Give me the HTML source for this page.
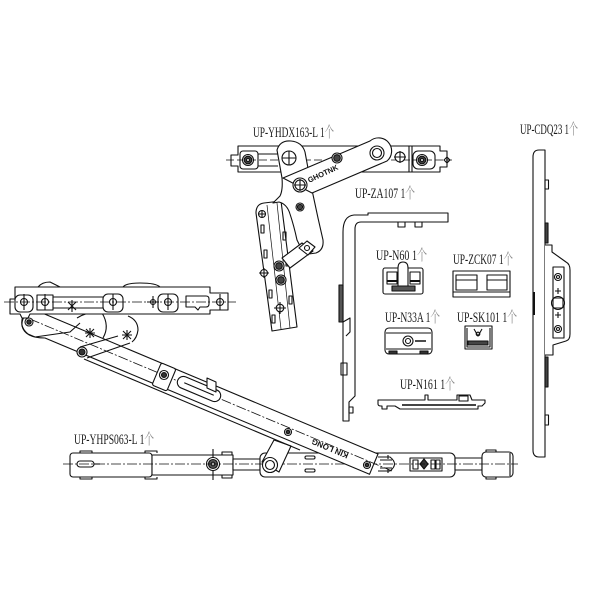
<!DOCTYPE html>
<html><head><meta charset="utf-8">
<style>
html,body{margin:0;padding:0;background:#fff;width:600px;height:600px;overflow:hidden}
svg{display:block}
.lb{font-family:"Liberation Serif","Noto Serif CJK SC",serif;font-size:15px;fill:#1a1a1a}
.g{fill:#8a8a8a}
.kt{font-family:"Liberation Sans",sans-serif;font-weight:bold;fill:#111}
</style></head><body>
<svg width="600" height="600" viewBox="0 0 600 600" xmlns="http://www.w3.org/2000/svg">
<rect width="600" height="600" fill="#fff"/>
<g fill="none" stroke="#111" stroke-width="1.1" stroke-linejoin="round">

<!-- ===== Bottom track ===== -->
<g fill="#fff">
<rect x="70" y="453" width="82" height="24" rx="3"/>
<rect x="152" y="455" width="81" height="20"/>
<rect x="233" y="459" width="27" height="11"/>
<rect x="260" y="453" width="195" height="24" rx="5"/>
<rect x="455" y="458" width="27" height="12"/>
<rect x="482" y="452" width="31" height="25" rx="4"/>
</g>
<path d="M80,453 v-2 h12 v2 M80,477 v2 h12 v-2 M145,453 v-2 h12 v2 M145,477 v2 h12 v-2 M222,455 v-3 h10 v3 M222,475 v3 h10 v-3 M486,452 v-2 h10 v2 M486,477 v2 h10 v-2"/>
<rect x="77" y="461" width="17" height="6" rx="3"/>
<line x1="94" y1="464" x2="100" y2="464"/>
<line x1="510" y1="453" x2="510" y2="476"/>
<line x1="213" y1="449" x2="213" y2="480"/>
<circle cx="213" cy="464" r="6.5" fill="#fff"/>
<circle cx="213" cy="464" r="4.5" fill="#555"/>
<circle cx="213" cy="464" r="1.8" fill="#fff"/>
<rect x="305" y="456" width="10" height="3" rx="1.5"/>
<rect x="305" y="469" width="10" height="3" rx="1.5"/>
<rect x="410" y="458" width="32" height="13"/>
<rect x="413" y="460" width="5" height="9"/>
<path d="M424,459 l4,5 l-4,5 l-4,-5z" fill="#333"/>
<rect x="431" y="460" width="4" height="9"/>
<rect x="436" y="460" width="4" height="9"/>
<path d="M378,457 L390,457 Q399,464 390,471 L378,471 M380,460 L392,460 M380,468 L392,468 M388,455 L388,459 M388,469 L388,473"/>
<line x1="63" y1="464" x2="518" y2="464" stroke-dasharray="10 2 2 2" stroke-width="0.8"/>

<!-- short link on track -->
<path d="M262,462 L274,440 L291,446 L279,472 Z" fill="#fff"/>
<circle cx="270" cy="465" r="7.5" fill="#fff"/>
<circle cx="270" cy="465" r="4.5"/>

<!-- ===== Main diagonal arm ===== -->
<path d="M35,310 L378,454 L369.5,474.3 L45,338 Q25,338 22,326 Q21,314 35,310 Z" fill="#fff"/>
<line x1="84" y1="359" x2="300" y2="450"/>
<line x1="30" y1="319" x2="392" y2="471" stroke-dasharray="10 2 2 2" stroke-width="0.8"/>
<g transform="rotate(22.8 199 389)">
<rect x="176" y="383" width="46" height="12" rx="6" fill="#fff"/>
<line x1="183" y1="389" x2="215" y2="389"/>
</g>
<path d="M207,378 l9,4 l0,10 l-9,-4z" fill="#fff"/>
<g transform="rotate(22.8 164 377)">
<rect x="156" y="365" width="16" height="24" rx="2" fill="#fff"/>
</g>
<circle cx="164" cy="375" r="4.5" fill="#fff"/>
<circle cx="164" cy="375" r="2.5" fill="#333"/>
<path d="M77,318 Q90,310 102,313 Q110,326 103,338" fill="#fff"/>
<path d="M128,316 Q138,320 138,330 Q137,338 132,342"/>
<path d="M80,347 L118,336 M87,358 L130,343"/>
<circle cx="82" cy="352" r="5" fill="#fff"/>
<circle cx="82" cy="352" r="3" fill="#333"/>
<path d="M24,314 Q18,326 28,334 L35,337 L70,332 L80,323"/>
<circle cx="29" cy="322" r="4" fill="#fff"/>
<circle cx="29" cy="322" r="2.2" fill="#333"/>
<path d="M86,329 l8,8 M94,329 l-8,8 M90,328 v10 M85,333 h10"/>
<path d="M123,331 l8,8 M131,331 l-8,8 M127,330 v10 M122,335 h10"/>
<circle cx="288" cy="432" r="3.5" fill="#fff"/>
<circle cx="288" cy="432" r="1.8" fill="#333"/>
<circle cx="367" cy="465" r="3.5" fill="#fff"/>
<circle cx="367" cy="465" r="1.8" fill="#333"/>
<text class="kt" font-size="8" stroke="none" text-anchor="middle" transform="translate(331,446) rotate(202.8)">KIN LONG</text>

<!-- ===== Top-left rail ===== -->
<path d="M38,287 Q42,282 50,282 L60,287 M123,287 Q126,283 140,283 Q156,283 160,287"/>
<path d="M15,287 H210 V293 H228 V310 H210 V314 H30 L28,318 H22 L20,314 H10 V299 H15 Z" fill="#fff"/>
<rect x="15" y="295" width="18" height="17" rx="5"/>
<rect x="37" y="295" width="16" height="15"/>
<path d="M53,297 H103 M53,308 H103"/>
<rect x="103" y="294" width="20" height="18" rx="5"/>
<rect x="158" y="294" width="20" height="18" rx="5"/>
<path d="M186,296 H206 Q209,296 209,299 V304 Q209,307 206,307 H200 L198,310 L195,307 H186 Z"/>
<circle cx="24" cy="302" r="3.5"/>
<circle cx="45" cy="302" r="3.5"/>
<circle cx="113" cy="302" r="3.5"/>
<circle cx="168" cy="302" r="3.5"/>
<circle cx="220" cy="302" r="3.5"/>
<circle cx="153" cy="302" r="2.5"/>
<path d="M24,294 V310 M45,294 V310 M113,294 V310 M168,294 V310 M220,294 V310 M153,296 V308 M147,302 H159"/>
<path d="M68,302 l8,8 M76,302 l-8,8 M72,300 v12"/>
<line x1="4" y1="302" x2="236" y2="302" stroke-dasharray="10 2 2 2" stroke-width="0.8"/>

<!-- ===== Top hinge ===== -->
<path d="M238,146 H440 V151 H447 V167 H440 V172 H238 V166 H231 V155 H238 Z" fill="#fff"/>
<path d="M409,146 V172 M412,146 V172"/>
<rect x="240" y="151" width="18" height="18" rx="3"/>
<path d="M258,154 H278 M258,166 H278"/>
<rect x="413" y="151" width="22" height="18" rx="5"/>
<line x1="226" y1="160" x2="452" y2="160" stroke-dasharray="8 3" stroke-width="0.8"/>
<circle cx="248" cy="160" r="5.5" fill="#fff"/>
<circle cx="248" cy="160" r="3.8" fill="#444"/>
<circle cx="248" cy="160" r="1.5" fill="#fff"/>
<circle cx="422" cy="160" r="5.5" fill="#fff"/>
<circle cx="422" cy="160" r="3.8" fill="#444"/>
<circle cx="422" cy="160" r="1.5" fill="#fff"/>
<circle cx="400" cy="157" r="5" fill="#fff"/>
<path d="M394,157 H406 M400,151 V163"/>
<path d="M444,160 l3,-3 l3,3 l-3,3z"/>

<path d="M256,213 Q256,204 264,203 L281,201 L297,327 L272,331 Z" fill="#fff"/>
<path d="M267,205 L281,329 M277,203 L290,328" stroke-width="0.7"/>
<rect x="261" y="225" width="3" height="8"/>
<rect x="264" y="250" width="3" height="8"/>
<rect x="269" y="290" width="3" height="8"/>
<rect x="272" y="315" width="3" height="8"/>
<rect x="283" y="232" width="3" height="8"/>
<rect x="286" y="258" width="3" height="8"/>
<rect x="289" y="296" width="3" height="8"/>
<circle cx="279" cy="266" r="5" fill="#fff"/>
<circle cx="279" cy="266" r="3.3" fill="#444"/>
<circle cx="281" cy="280" r="5" fill="#fff"/>
<circle cx="281" cy="280" r="3.3" fill="#444"/>
<circle cx="264" cy="273" r="3.5" fill="#fff"/>
<path d="M259,273 H269 M264,268 V278"/>
<circle cx="280" cy="308" r="3.8" fill="#fff"/>
<path d="M274,308 H286 M280,302 V314"/>
<circle cx="262" cy="214" r="3.5" fill="#fff"/>
<path d="M258,214 H266 M262,210 V218"/>

<path d="M277,150 Q280,140 291,141 Q302,142 305,152 L312,190 L318,218 L323,240 Q324,250 316,253 L309,254 L302,250 L297,240 Q294,226 290,214 Q287,204 279,202 L273,203 L280,196 Q283,190 282,178 Z" fill="#fff"/>
<circle cx="289" cy="158" r="7" fill="#fff"/>
<path d="M282,158 H296 M289,151 V165"/>
<path d="M302,243 L313,251 L290,268 L282,258 Z" fill="#fff"/>
<path d="M299,248 L307,241 L315,247 L308,255 Z" fill="#fff"/>
<circle cx="307" cy="248" r="2.5"/>
<circle cx="300" cy="207" r="4" fill="#fff"/>
<circle cx="300" cy="207" r="2.6" fill="#444"/>
<path d="M283,178 L370,141 A12,12 0 0 1 387,161 L312,193 Z" fill="#fff"/>
<circle cx="377" cy="153" r="7"/>
<circle cx="377" cy="153" r="4.5"/>
<circle cx="337" cy="158" r="5" fill="#fff"/>
<circle cx="337" cy="158" r="3.3" fill="#444"/>
<circle cx="300" cy="185" r="7" fill="#fff"/>
<circle cx="300" cy="185" r="5"/>
<path d="M294,185 H306 M300,179 V191"/>
<text class="kt" font-size="7.5" stroke="none" text-anchor="middle" transform="translate(324,176) rotate(-25)">GHOTNK</text>

<!-- ===== ZA107 ===== -->
<path d="M343,421 V232 Q343,216 354,215 H368 V213 H448 V222 H361 Q355,222 355,229 V396 L349,402 V421 Z"/>
<rect x="398" y="222" width="7" height="5"/>
<rect x="415" y="222" width="7" height="5"/>
<rect x="339" y="285" width="4" height="37" fill="#555"/>
<path d="M343,322 L350,318 V332 L346,336"/>
<rect x="341" y="363" width="6" height="12"/>
<rect x="349" y="407" width="4" height="6"/>

<!-- ===== N60 ===== -->
<rect x="383" y="268" width="40" height="26" rx="2"/>
<rect x="387" y="272" width="10" height="12"/>
<rect x="410" y="272" width="10" height="12"/>
<path d="M387,281 H397 M410,281 H420" stroke-width="2"/>
<path d="M398,286 V268 Q398,262 403,262 Q408,262 408,268 V286" fill="#fff"/>
<rect x="392" y="286" width="23" height="5" fill="#555"/>

<!-- ===== ZCK07 ===== -->
<rect x="453" y="271" width="57" height="26"/>
<rect x="456" y="275" width="21" height="15"/>
<rect x="487" y="275" width="20" height="15"/>
<path d="M456,280 H477 M487,280 H507 M453,292 H510"/>

<!-- ===== N33A ===== -->
<rect x="385" y="328" width="47" height="26" rx="4"/>
<path d="M386,333 H431 M386,349 H431"/>
<circle cx="408" cy="341" r="5"/>
<circle cx="408" cy="341" r="2.5"/>
<path d="M415,341 H426" stroke-width="1.5"/>
<rect x="389" y="351" width="8" height="3" fill="#333"/>
<rect x="420" y="351" width="8" height="3" fill="#333"/>

<!-- ===== SK101 ===== -->
<rect x="465" y="326" width="27" height="23"/>
<path d="M467,328 V347 H490 V328"/>
<path d="M474,329 L478,336 L482,329"/>
<circle cx="478" cy="334" r="1.8"/>
<rect x="468" y="341" width="20" height="4" fill="#444"/>

<!-- ===== N161 ===== -->
<path d="M378,400 V404 Q378,406 381,406 H382 V409 H387 V406 H395 L400,409 H478 V406 H482 L485,403 V400 H472 L470,395 H457 V400 H428 V395 H425 V400 Z" fill="#fff"/>
<path d="M402,405 H476" stroke-width="2" stroke="#444"/>
<rect x="459" y="396" width="9" height="5"/>

<!-- ===== CDQ23 ===== -->
<path d="M539,150 Q533,150 533,157 V450 Q533,457 539,457 H545 V150 Z" fill="#fff"/>
<rect x="545" y="180" width="3.5" height="9"/>
<rect x="545" y="415" width="3.5" height="10"/>
<rect x="545" y="223" width="3" height="20" fill="#444"/>
<rect x="545" y="357" width="3" height="30" fill="#444"/>
<path d="M545,245 H552 V252 L566,262 Q570,264 570,270 V334 Q570,340 566,341 L553,345 V355 H545" fill="#fff"/>
<rect x="553" y="267" width="11" height="71"/>
<circle cx="558" cy="277" r="3.5"/>
<circle cx="558" cy="277" r="1.5"/>
<path d="M555,291 H561 M558,288 V294"/>
<circle cx="558" cy="303" r="6.5" fill="#fff"/>
<rect x="553" y="298" width="10" height="10" rx="2" fill="#fff"/>
<path d="M555,315 H561 M558,312 V318"/>
<circle cx="558" cy="329" r="3.5"/>
<circle cx="558" cy="329" r="1.5"/>
<line x1="534" y1="292" x2="534" y2="315" stroke-width="2"/>
</g>

<!-- ===== Labels ===== -->
<g stroke="none">
<text class="lb" x="253" y="137" textLength="81" lengthAdjust="spacingAndGlyphs">UP-YHDX163-L 1<tspan class="g">个</tspan></text>
<text class="lb" x="355" y="198" textLength="60" lengthAdjust="spacingAndGlyphs">UP-ZA107 1<tspan class="g">个</tspan></text>
<text class="lb" x="376" y="260" textLength="51" lengthAdjust="spacingAndGlyphs">UP-N60 1<tspan class="g">个</tspan></text>
<text class="lb" x="453" y="264" textLength="60" lengthAdjust="spacingAndGlyphs">UP-ZCK07 1<tspan class="g">个</tspan></text>
<text class="lb" x="385" y="322" textLength="55" lengthAdjust="spacingAndGlyphs">UP-N33A 1<tspan class="g">个</tspan></text>
<text class="lb" x="457" y="322" textLength="60" lengthAdjust="spacingAndGlyphs">UP-SK101 1<tspan class="g">个</tspan></text>
<text class="lb" x="400" y="389" textLength="55" lengthAdjust="spacingAndGlyphs">UP-N161 1<tspan class="g">个</tspan></text>
<text class="lb" x="520" y="134" textLength="58" lengthAdjust="spacingAndGlyphs">UP-CDQ23 1<tspan class="g">个</tspan></text>
<text class="lb" x="74" y="444" textLength="80" lengthAdjust="spacingAndGlyphs">UP-YHPS063-L 1<tspan class="g">个</tspan></text>
</g>
</svg>
</body></html>
